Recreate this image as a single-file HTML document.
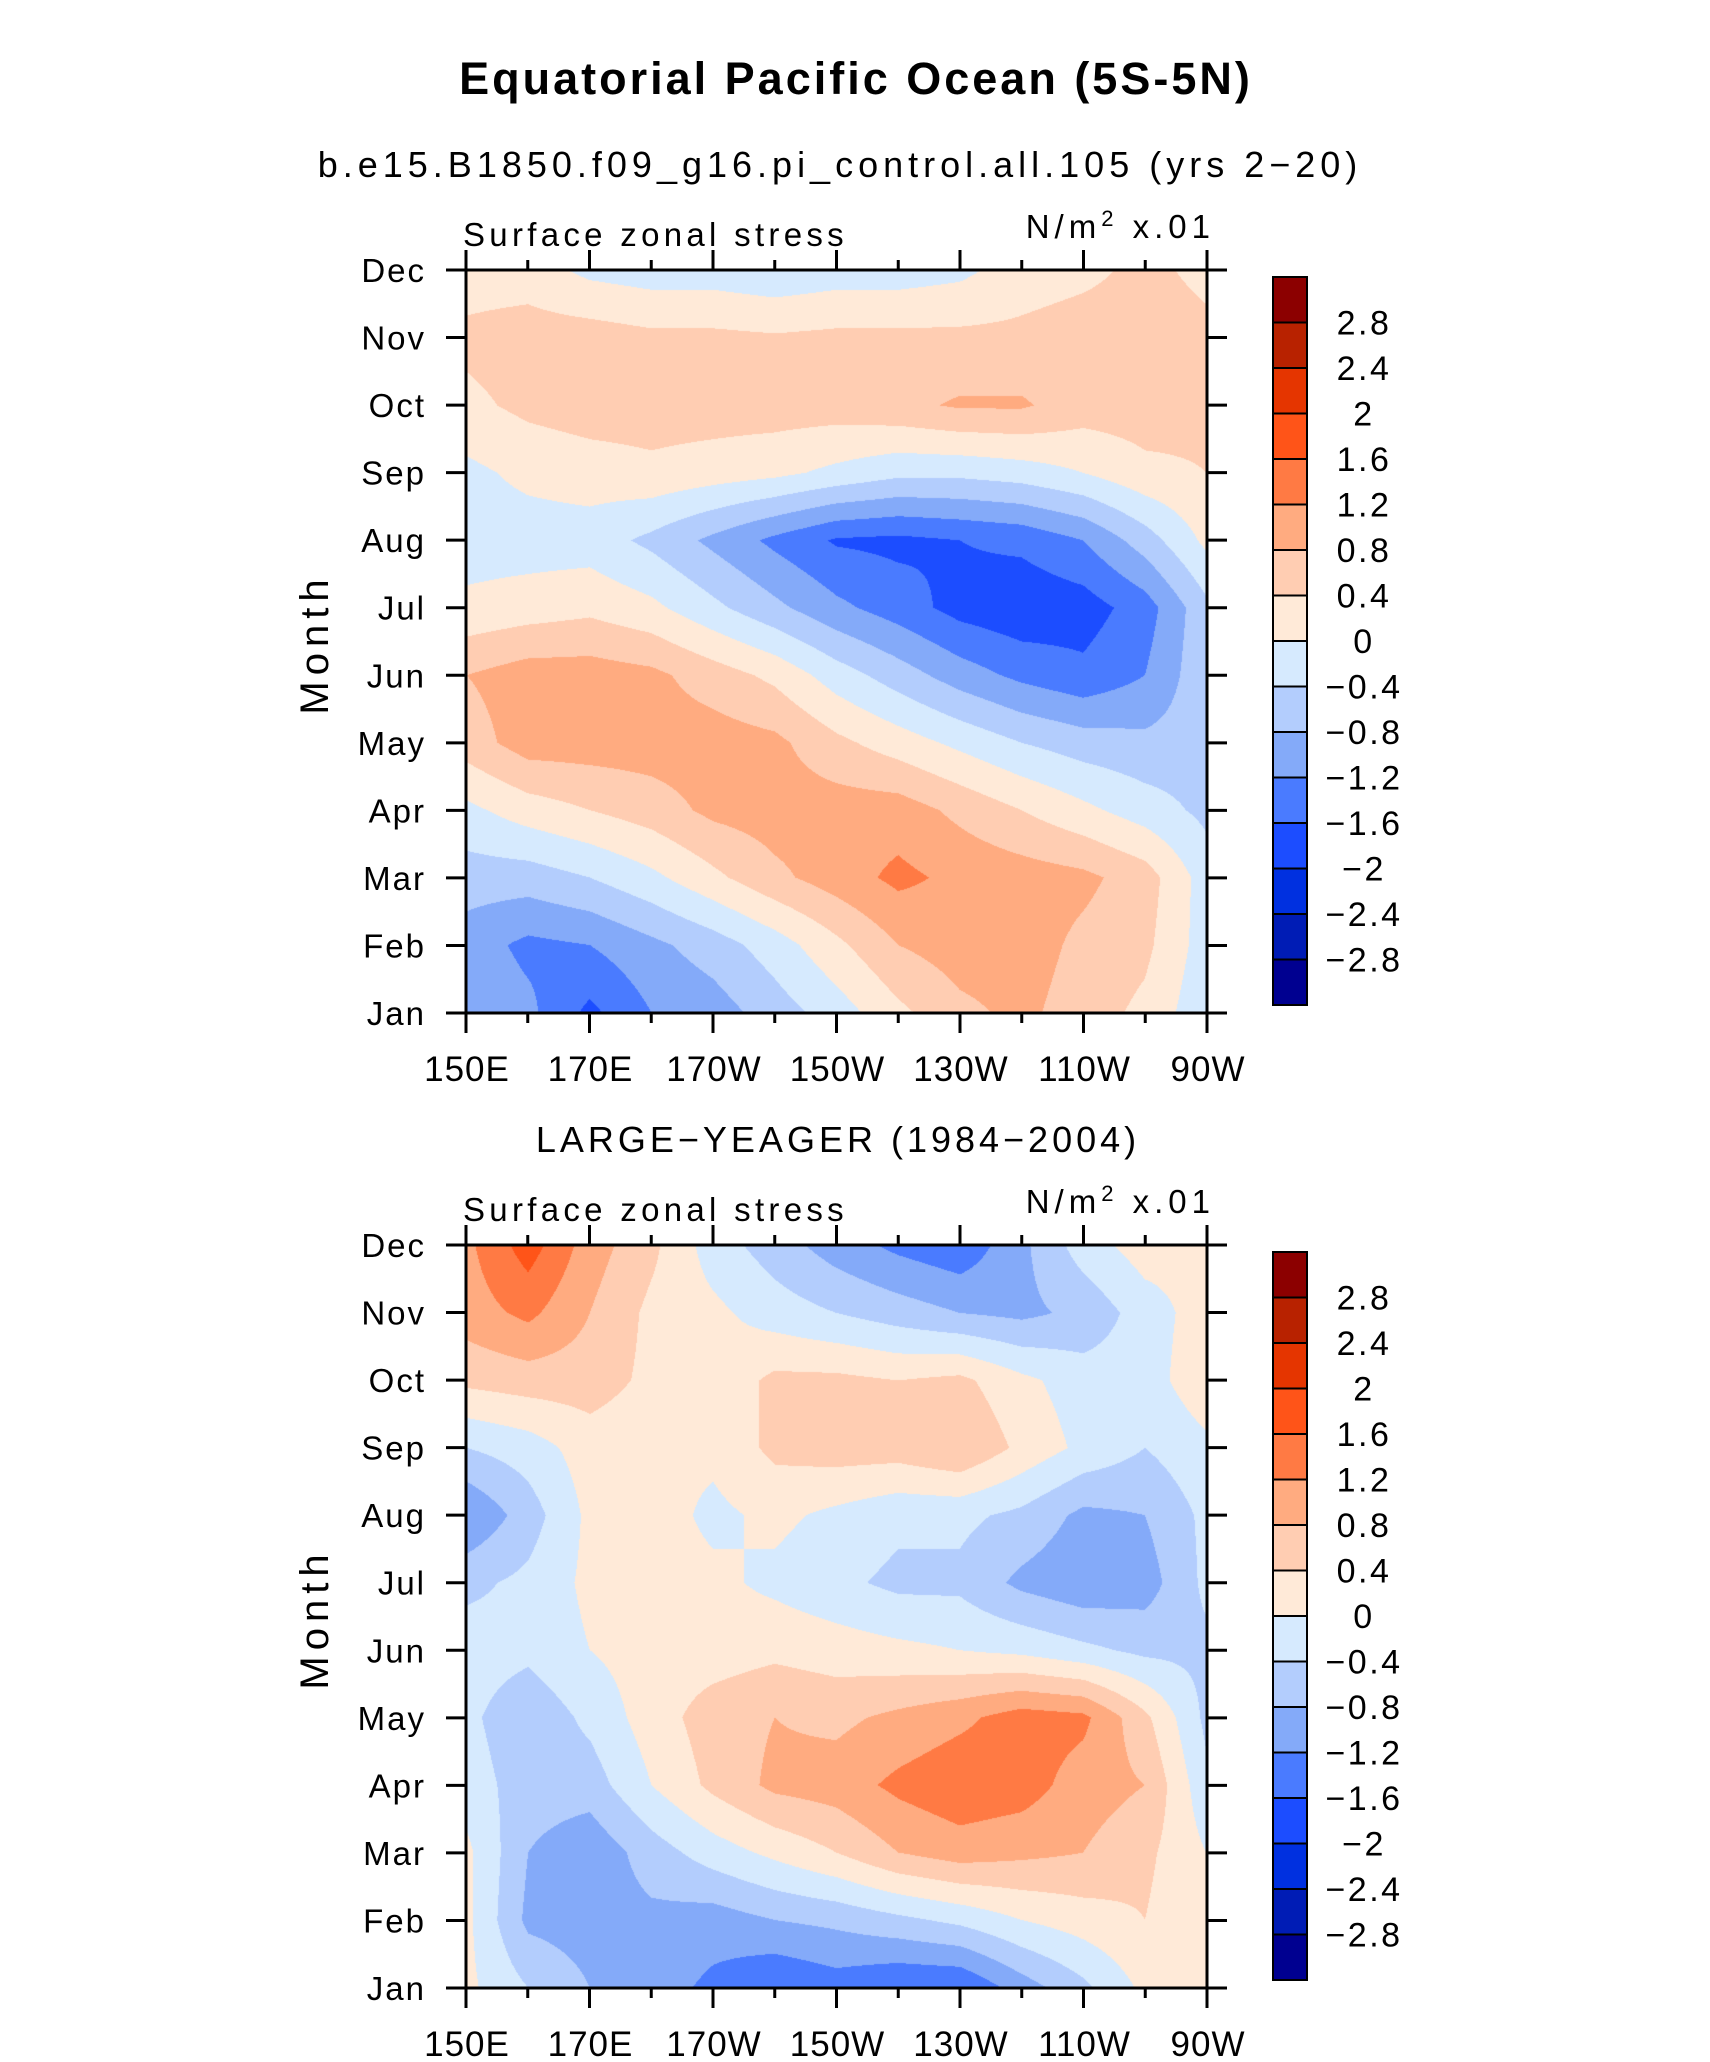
<!DOCTYPE html>
<html><head><meta charset="utf-8">
<style>
html,body{margin:0;padding:0;background:#fff;}
#root{position:relative;width:1710px;height:2062px;overflow:hidden;font-family:"Liberation Sans",sans-serif;}
svg{position:absolute;left:0;top:0;}
canvas{position:absolute;}
</style></head>
<body>
<div id="root">
<canvas id="c1" width="741" height="743" style="left:466px;top:270px"></canvas>
<canvas id="c2" width="741" height="743" style="left:466px;top:1245px"></canvas>
<svg id="svg" width="1710" height="2062">
<text x="856" y="94" text-anchor="middle" font-size="45" font-weight="bold" letter-spacing="3">Equatorial Pacific Ocean (5S-5N)</text>
<text x="840" y="177" text-anchor="middle" font-size="36" letter-spacing="5">b.e15.B1850.f09_g16.pi_control.all.105 (yrs 2−20)</text>
<text x="838" y="1152" text-anchor="middle" font-size="36" letter-spacing="4">LARGE−YEAGER (1984−2004)</text>
</svg>
</div>
<script>
const months=["Jan","Feb","Mar","Apr","May","Jun","Jul","Aug","Sep","Oct","Nov","Dec"];
const lonLabels=["150E","170E","170W","150W","130W","110W","90W"];
const levels=[-2.8,-2.4,-2,-1.6,-1.2,-0.8,-0.4,0,0.4,0.8,1.2,1.6,2,2.4,2.8];
const levelLabels=["2.8","2.4","2","1.6","1.2","0.8","0.4","0","−0.4","−0.8","−1.2","−1.6","−2","−2.4","−2.8"];
const colors=["#000090","#001cb5","#0030e0","#1c4dff","#4a7bff","#84aaf9","#b3cdfd","#d6eafe","#ffead8","#ffcdb2","#ffab80","#ff7a44","#ff5418","#e53500","#b82200","#8c0000"];
// rows Jan..Dec, columns 150E..90W every 10 deg
const model=[
[-0.9,-1.1,-1.7,-1.2,-1.0,-0.6,-0.2,0.3,0.7,0.9,0.6,0.3,-0.3],
[-1.0,-1.3,-1.2,-0.9,-0.6,-0.2,0.3,0.8,1.0,1.0,0.7,0.5,-0.2],
[-0.6,-0.6,-0.4,-0.1,0.3,0.7,1.0,1.3,1.1,1.0,0.9,0.6,-0.2],
[-0.1,0.2,0.4,0.6,0.9,1.0,1.0,1.0,0.7,0.4,0.1,-0.2,-0.5],
[0.6,1.0,1.0,1.0,1.0,0.9,0.5,0.2,-0.1,-0.4,-0.6,-0.7,-0.6],
[0.8,1.0,1.0,0.9,0.6,0.3,-0.2,-0.6,-1.0,-1.3,-1.5,-1.2,-0.5],
[0.1,0.2,0.3,0.1,-0.3,-0.7,-1.1,-1.4,-1.75,-1.9,-1.8,-1.4,-0.5],
[-0.2,-0.2,-0.2,-0.5,-0.9,-1.3,-1.65,-1.7,-1.6,-1.5,-1.2,-0.6,0.1],
[-0.1,0.1,0.2,0.3,0.2,0.1,-0.1,-0.3,-0.3,-0.2,0.0,0.3,0.4],
[0.3,0.5,0.6,0.6,0.6,0.6,0.6,0.7,0.85,0.85,0.6,0.6,0.5],
[0.5,0.6,0.6,0.5,0.5,0.45,0.5,0.5,0.5,0.5,0.6,0.6,0.5],
[0.2,0.2,-0.1,-0.2,-0.2,-0.3,-0.2,-0.2,-0.1,0.2,0.3,0.5,0.3]];
const obs=[
[0.1,-0.4,-0.8,-1.0,-1.3,-1.6,-1.4,-1.6,-1.6,-1.0,-0.5,0.1,0.1],
[0.1,-0.9,-1.0,-0.9,-1.0,-0.8,-0.7,-0.5,-0.3,0.0,0.2,0.4,0.0],
[0.1,-0.8,-1.1,-0.6,-0.2,0.1,0.4,0.8,1.0,0.9,0.8,0.5,0.0],
[-0.2,-0.6,-0.6,0.0,0.5,0.9,1.0,1.3,1.5,1.4,1.0,0.8,-0.3],
[-0.3,-0.7,-0.3,0.2,0.6,0.8,0.7,0.9,1.1,1.4,1.3,0.5,-0.5],
[-0.2,-0.3,0.0,0.2,0.2,0.3,0.2,0.1,0.0,-0.1,-0.3,-0.5,-0.5],
[-0.5,-0.3,0.1,0.2,0.1,-0.1,-0.3,-0.5,-0.5,-0.9,-1.1,-1.0,-0.3],
[-1.2,-0.6,0.1,0.2,-0.1,0.1,-0.1,-0.3,-0.3,-0.5,-0.9,-0.8,-0.3],
[-0.4,-0.2,0.2,0.1,0.1,0.5,0.6,0.6,0.8,0.3,-0.1,-0.4,-0.1],
[0.5,0.6,0.6,0.3,0.1,0.5,0.5,0.4,0.5,0.1,-0.2,-0.2,0.3],
[1.0,1.3,0.8,0.3,0.1,-0.2,-0.4,-0.6,-0.8,-0.9,-0.7,-0.2,0.2],
[1.1,1.8,1.0,0.5,-0.2,-0.6,-1.0,-1.3,-1.5,-0.9,-0.2,0.2,0.1]];

const NS="http://www.w3.org/2000/svg";
const svg=document.getElementById('svg');
const PX0=466,PX1=1207,PW=PX1-PX0,PH=743;
function xScale(lonIdx){return PX0+lonIdx/12*PW;}
function yScale(top,m){return top+PH-m/11*PH;}
function el(tag,attrs){const e=document.createElementNS(NS,tag);for(const k in attrs)e.setAttribute(k,attrs[k]);svg.appendChild(e);return e;}

function drawField(cid,data){
  const cv=document.getElementById(cid),ctx=cv.getContext('2d');
  const W=cv.width,H=cv.height,img=ctx.createImageData(W,H);
  const rgb=colors.map(c=>[parseInt(c.substr(1,2),16),parseInt(c.substr(3,2),16),parseInt(c.substr(5,2),16)]);
  for(let py=0;py<H;py++){
    const m=(H-1-py)/(H-1)*11;const j=Math.min(10,Math.floor(m)),fy=m-j;
    for(let px=0;px<W;px++){
      const l=px/(W-1)*12;const i=Math.min(11,Math.floor(l)),fx=l-i;
      const v=(data[j][i]*(1-fx)+data[j][i+1]*fx)*(1-fy)+(data[j+1][i]*(1-fx)+data[j+1][i+1]*fx)*fy;
      let k=0;while(k<levels.length&&v>=levels[k])k++;
      const o=(py*W+px)*4,c=rgb[k];img.data[o]=c[0];img.data[o+1]=c[1];img.data[o+2]=c[2];img.data[o+3]=255;
    }
  }
  ctx.putImageData(img,0,0);
}

function drawAxes(top,tag){
  const bot=top+PH;
  const frame=el('rect',{x:PX0,y:top,width:PW,height:PH,fill:'none',stroke:'#000','stroke-width':3});
  
  
  for(let m=0;m<12;m++){
    const y=yScale(top,m);
    el('line',{x1:PX0-20,x2:PX0,y1:y,y2:y,stroke:'#000','stroke-width':3});
    el('line',{x1:PX1,x2:PX1+20,y1:y,y2:y,stroke:'#000','stroke-width':3});
    const t=el('text',{x:426,y:y+12,'text-anchor':'end','font-size':33,'letter-spacing':2});
    t.textContent=months[m];
    
    
  }
  for(let i=0;i<=12;i++){
    const x=xScale(i),len=i%2==0?20:10;
    el('line',{x1:x,x2:x,y1:top-len,y2:top,stroke:'#000','stroke-width':3});
    el('line',{x1:x,x2:x,y1:bot,y2:bot+len,stroke:'#000','stroke-width':3});
    if(i%2==0){
      const t=el('text',{x:x+1,y:bot+68,'text-anchor':'middle','font-size':35,'letter-spacing':1});
      t.textContent=lonLabels[i/2];
      
      
    }
  }
  const yl=el('text',{x:0,y:0,'text-anchor':'middle','font-size':40,'letter-spacing':6,transform:`translate(328,${top+374}) rotate(-90)`});
  yl.textContent='Month';
  
  
  const ls=el('text',{x:463,y:top-24,'font-size':33,'letter-spacing':4.3});
  ls.textContent='Surface zonal stress';
  
  
  const rs=el('text',{x:1215,y:top-32,'text-anchor':'end','font-size':33,'letter-spacing':5});
  rs.innerHTML='N/m<tspan dy="-12" font-size="22">2</tspan><tspan dy="12"> x.01</tspan>';
  
  
  const cbTop=top+7,cbH=728,bh=cbH/16;
  for(let k=0;k<16;k++){
    const r=el('rect',{x:1273,y:cbTop+(15-k)*bh,width:34,height:bh,fill:colors[k],stroke:'#000','stroke-width':2});
    
    
  }
  for(let k=0;k<levelLabels.length;k++){
    const t=el('text',{x:1364,y:cbTop+(k+1)*bh+12,'text-anchor':'middle','font-size':34,'letter-spacing':2.5});
    t.textContent=levelLabels[k];
    
    
  }
}
drawField('c1',model);
drawField('c2',obs);
drawAxes(270,'model');
drawAxes(1245,'obs');
</script>
</body></html>
